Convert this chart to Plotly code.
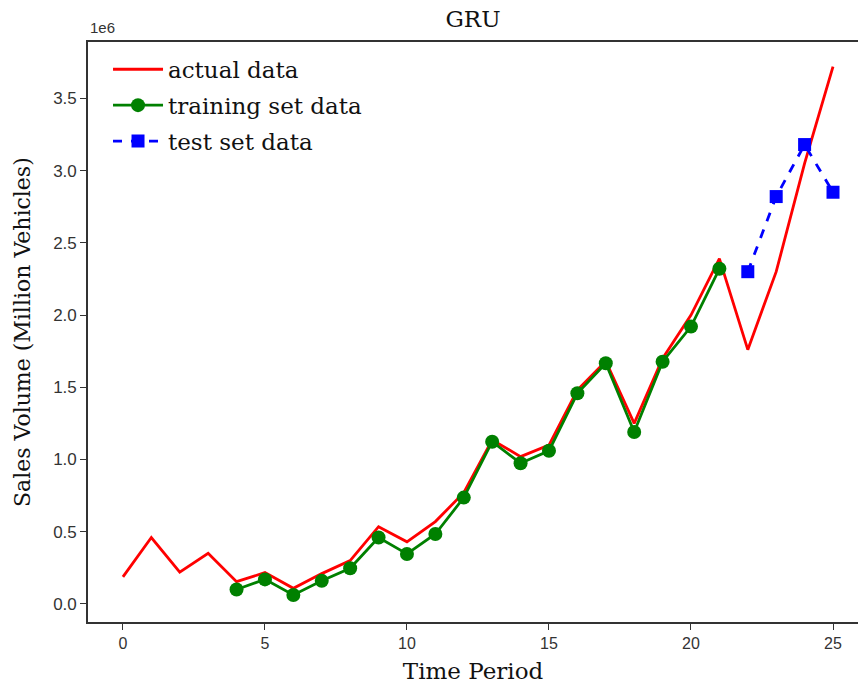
import plotly.graph_objects as go

# Data (sales volume in vehicles)
t_actual = list(range(26))
actual = [0.187e6, 0.46e6, 0.22e6, 0.35e6, 0.154e6, 0.217e6, 0.108e6, 0.21e6, 0.30e6, 0.535e6,
          0.43e6, 0.57e6, 0.77e6, 1.135e6, 1.02e6, 1.10e6, 1.48e6, 1.68e6, 1.25e6, 1.70e6,
          2.00e6, 2.39e6, 1.76e6, 2.30e6, 3.05e6, 3.72e6]

t_train = list(range(4, 22))
train = [0.10e6, 0.17e6, 0.062e6, 0.16e6, 0.247e6, 0.46e6, 0.346e6, 0.484e6, 0.736e6, 1.123e6,
         0.974e6, 1.06e6, 1.458e6, 1.666e6, 1.19e6, 1.677e6, 1.92e6, 2.32e6]

t_test = [22, 23, 24, 25]
test = [2.30e6, 2.82e6, 3.18e6, 2.85e6]

y_tickvals = [0, 0.5e6, 1.0e6, 1.5e6, 2.0e6, 2.5e6, 3.0e6, 3.5e6]
y_ticktext = ["0.0", "0.5", "1.0", "1.5", "2.0", "2.5", "3.0", "3.5"]
x_tickvals = [0, 5, 10, 15, 20, 25]

serif = "DejaVu Serif, serif"
sans = "Liberation Sans, DejaVu Sans, Arial, sans-serif"

fig = go.Figure()
fig.add_trace(go.Scatter(x=t_actual, y=actual, mode="lines", name="actual data",
                         legendgroup="a",
                         line=dict(color="#ff0000", width=2.8)))
fig.add_trace(go.Scatter(x=t_train, y=train, mode="lines+markers", name="training set data",
                         legendgroup="b",
                         line=dict(color="#008000", width=2.8),
                         marker=dict(symbol="circle", size=14, color="#008000")))
fig.add_trace(go.Scatter(x=t_test, y=test, mode="lines+markers", name="test set data",
                         legendgroup="c",
                         line=dict(color="#0000ff", width=2.8, dash="dash"),
                         marker=dict(symbol="square", size=13, color="#0000ff")))

fig.update_layout(
    width=858, height=689,
    margin=dict(l=88, r=0, t=42, b=67),
    paper_bgcolor="white", plot_bgcolor="white",
    title=dict(text="GRU", x=(88 + 858) / 2 / 858, xanchor="center", y=1 - 19 / 689, yanchor="middle",
               font=dict(family=serif, size=23, color="#111")),
    showlegend=True,
    legend=dict(x=0.026, y=0.99, xanchor="left", yanchor="top",
                font=dict(family=serif, size=23, color="#111"),
                bgcolor="rgba(255,255,255,0)", borderwidth=0,
                traceorder="grouped", tracegroupgap=3, itemwidth=50),
    xaxis=dict(range=[-1.23, 25.88], tickvals=x_tickvals, ticks="outside", ticklen=6,
               tickcolor="#333", tickwidth=1.3,
               showline=True, linecolor="#333", linewidth=1.6, mirror=True,
               showgrid=False, zeroline=False,
               tickfont=dict(family=sans, size=16, color="#333"),
               title=dict(text="Time Period", font=dict(family=serif, size=23, color="#111"), standoff=12)),
    yaxis=dict(range=[-0.125e6, 3.89e6], tickvals=y_tickvals, ticktext=y_ticktext,
               ticks="outside", ticklen=6, tickcolor="#333", tickwidth=1.3,
               showline=True, linecolor="#333", linewidth=1.6, mirror=False,
               showgrid=False, zeroline=False,
               tickfont=dict(family=sans, size=17, color="#333")),
    annotations=[
        dict(text="1e6", xref="paper", yref="paper", x=0.0, y=1.0,
             xanchor="left", yanchor="bottom", yshift=4, showarrow=False,
             font=dict(family=sans, size=15, color="#333")),
        dict(text="Sales Volume (Million Vehicles)", xref="paper", yref="paper",
             x=(22 - 88) / 770, y=(622 - 332) / 580, xanchor="center", yanchor="middle",
             textangle=-90, showarrow=False,
             font=dict(family=serif, size=22, color="#111")),
    ],
)

fig.write_html("out.html")
